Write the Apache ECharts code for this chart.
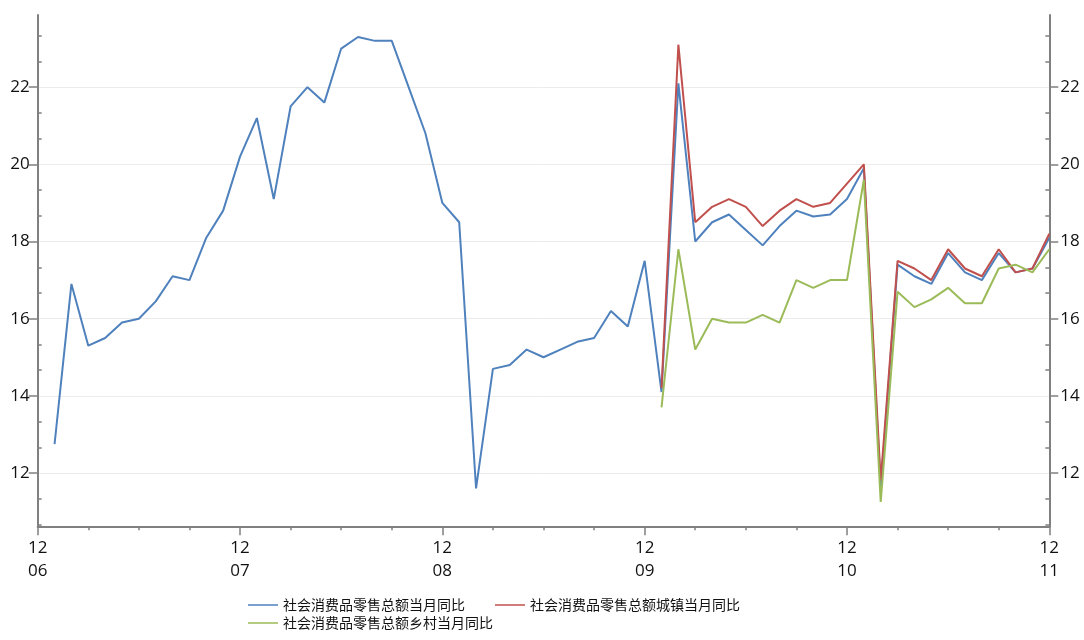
<!DOCTYPE html>
<html>
<head>
<meta charset="utf-8">
<script src="https://cdn.jsdelivr.net/npm/echarts@6/dist/echarts.min.js"></script>
<style>
html,body{margin:0;padding:0;background:#ffffff;}
#chart{width:1084px;height:640px;}
</style>
</head>
<body>
<div id="chart"></div>
<script>
// Month categories (Dec 2006 .. Dec 2011)
const months = [
  '2006-12',
  '2007-01','2007-02','2007-03','2007-04','2007-05','2007-06','2007-07','2007-08','2007-09','2007-10','2007-11','2007-12',
  '2008-01','2008-02','2008-03','2008-04','2008-05','2008-06','2008-07','2008-08','2008-09','2008-10','2008-11','2008-12',
  '2009-01','2009-02','2009-03','2009-04','2009-05','2009-06','2009-07','2009-08','2009-09','2009-10','2009-11','2009-12',
  '2010-01','2010-02','2010-03','2010-04','2010-05','2010-06','2010-07','2010-08','2010-09','2010-10','2010-11','2010-12',
  '2011-01','2011-02','2011-03','2011-04','2011-05','2011-06','2011-07','2011-08','2011-09','2011-10','2011-11','2011-12'
];

const seriesNames = ['社会消费品零售总额当月同比', '社会消费品零售总额城镇当月同比', '社会消费品零售总额乡村当月同比'];

// 社会消费品零售总额当月同比 (%)
const totalYoY = [
  null,
  12.75, 16.9, 15.3, 15.5, 15.9, 16.0, 16.45, 17.1, 17.0, 18.1, 18.8, 20.2,
  21.2, 19.1, 21.5, 22.0, 21.6, 23.0, 23.3, 23.2, 23.2, 22.0, 20.8, 19.0,
  18.5, 11.6, 14.7, 14.8, 15.2, 15.0, 15.2, 15.4, 15.5, 16.2, 15.8, 17.5,
  14.1, 22.1, 18.0, 18.5, 18.7, 18.3, 17.9, 18.4, 18.8, 18.65, 18.7, 19.1,
  19.9, 11.6, 17.4, 17.1, 16.9, 17.7, 17.2, 17.0, 17.7, 17.2, 17.3, 18.1
];

// 社会消费品零售总额城镇当月同比 (%)
const urbanYoY = [
  null,
  null, null, null, null, null, null, null, null, null, null, null, null,
  null, null, null, null, null, null, null, null, null, null, null, null,
  null, null, null, null, null, null, null, null, null, null, null, null,
  14.2, 23.1, 18.5, 18.9, 19.1, 18.9, 18.4, 18.8, 19.1, 18.9, 19.0, 19.5,
  20.0, 11.8, 17.5, 17.3, 17.0, 17.8, 17.3, 17.1, 17.8, 17.2, 17.3, 18.2
];

// 社会消费品零售总额乡村当月同比 (%)
const ruralYoY = [
  null,
  null, null, null, null, null, null, null, null, null, null, null, null,
  null, null, null, null, null, null, null, null, null, null, null, null,
  null, null, null, null, null, null, null, null, null, null, null, null,
  13.7, 17.8, 15.2, 16.0, 15.9, 15.9, 16.1, 15.9, 17.0, 16.8, 17.0, 17.0,
  19.6, 11.25, 16.7, 16.3, 16.5, 16.8, 16.4, 16.4, 17.3, 17.4, 17.2, 17.8
];

// Y axis tick labels and minor tick positions
const yTicks = [12, 14, 16, 18, 20, 22];
const yMinorTicks = [10.667, 11.333, 12.667, 13.333, 14.667, 15.333, 16.667, 17.333, 18.667, 19.333, 20.667, 21.333, 22.667, 23.333];
const yMin = 10.62;
const yMax = 23.87;

const colors = ['#4F81BD', '#C0504D', '#9BBB59'];
const axisGray = '#808080';
const labelFont = { fontFamily: 'Open Sans', fontSize: 17, color: '#111111' };

const chart = echarts.init(document.getElementById('chart'), null, { renderer: 'canvas' });

function yMajor(pos, margin, showSplit) {
  return {
    type: 'value', position: pos, min: yMin, max: yMax,
    axisLine: { show: true, lineStyle: { color: axisGray, width: 2 } },
    axisTick: { show: true, inside: false, length: 9, customValues: yTicks, lineStyle: { color: axisGray, width: 1.5 } },
    axisLabel: Object.assign({ show: true, margin: margin, customValues: yTicks }, labelFont),
    splitLine: { show: showSplit, lineStyle: { color: '#ececec', width: 1 } }
  };
}
function yMinor(pos) {
  return {
    type: 'value', position: pos, min: yMin, max: yMax,
    axisLine: { show: false },
    axisTick: { show: true, inside: true, length: 4, customValues: yMinorTicks, lineStyle: { color: axisGray, width: 1.5 } },
    axisLabel: { show: false },
    splitLine: { show: false }
  };
}

const legendText = { fontFamily: 'Noto Sans CJK SC', fontSize: 14, color: '#111111' };

const option = {
  animation: false,
  backgroundColor: '#ffffff',
  color: colors,
  grid: { left: 37.7, right: 34.7, top: 15, bottom: 113.7, containLabel: false },
  xAxis: [
    {
      type: 'category', data: months, boundaryGap: false, position: 'bottom',
      axisLine: { show: true, lineStyle: { color: axisGray, width: 2 } },
      axisTick: { show: true, length: 9, interval: (i) => i % 12 === 0, lineStyle: { color: axisGray, width: 1.5 } },
      axisLabel: Object.assign({
        show: true, interval: (i) => i % 12 === 0, margin: 10, lineHeight: 23,
        formatter: (v) => v.slice(5) + '\n' + v.slice(2, 4)
      }, labelFont),
      splitLine: { show: false }
    },
    {
      type: 'category', data: months, boundaryGap: false, position: 'bottom',
      axisLine: { show: false },
      axisTick: { show: true, length: 4, interval: (i) => i % 3 === 0, lineStyle: { color: axisGray, width: 1.5 } },
      axisLabel: { show: false },
      splitLine: { show: false }
    }
  ],
  yAxis: [
    yMajor('left', 8, true),
    yMajor('right', 11, false),
    yMinor('left'),
    yMinor('right')
  ],
  legend: [
    {
      data: [seriesNames[0], seriesNames[1]], left: 248, top: 598, orient: 'horizontal', padding: 0,
      icon: 'rect', itemWidth: 30, itemHeight: 1.5, itemGap: 30,
      textStyle: legendText
    },
    {
      data: [seriesNames[2]], left: 248, top: 616, orient: 'horizontal', padding: 0,
      icon: 'rect', itemWidth: 30, itemHeight: 1.5, itemGap: 30,
      textStyle: legendText
    }
  ],
  series: [
    { name: seriesNames[0], type: 'line', data: totalYoY, symbol: 'none', lineStyle: { width: 2, color: colors[0] }, itemStyle: { color: colors[0] }, connectNulls: false },
    { name: seriesNames[1], type: 'line', data: urbanYoY, symbol: 'none', lineStyle: { width: 2, color: colors[1] }, itemStyle: { color: colors[1] }, connectNulls: false },
    { name: seriesNames[2], type: 'line', data: ruralYoY, symbol: 'none', lineStyle: { width: 2, color: colors[2] }, itemStyle: { color: colors[2] }, connectNulls: false }
  ]
};

chart.setOption(option);
</script>
</body>
</html>
